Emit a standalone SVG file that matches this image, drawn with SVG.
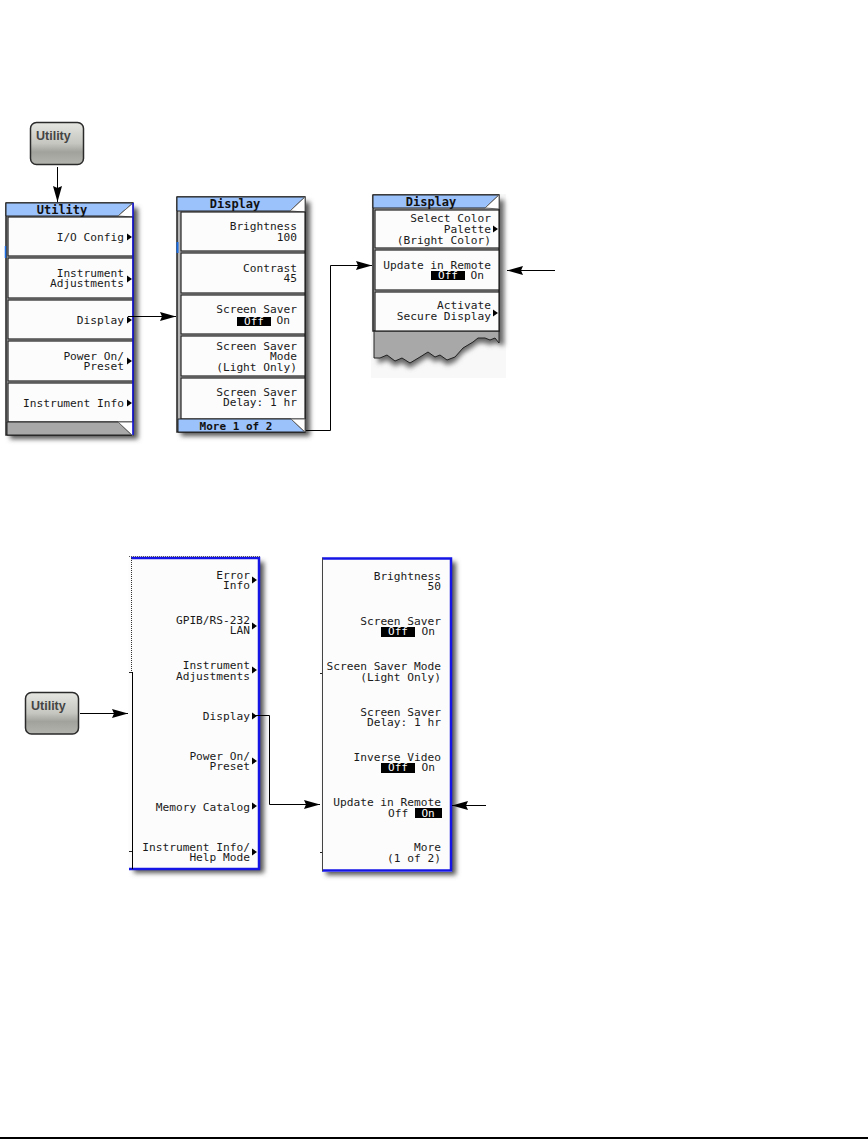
<svg xmlns="http://www.w3.org/2000/svg" width="868" height="1139" viewBox="0 0 868 1139">
<style>
.t{font-family:"DejaVu Sans Mono","Liberation Mono",monospace;font-size:11.2px;fill:#1a1a1a;text-anchor:end}
.tt{font-family:"DejaVu Sans Mono","Liberation Mono",monospace;font-size:12px;font-weight:bold;fill:#111;text-anchor:middle}
.more{font-size:11px}
.inv{font-family:"DejaVu Sans Mono","Liberation Mono",monospace;font-size:11px;fill:#fff;text-anchor:middle}
.k{fill:#fcfcfc;stroke:#222;stroke-width:1.2}
.body{fill:#b4b4b4;stroke:#222;stroke-width:1.5}
.band{fill:#9cc2fb;stroke:#222;stroke-width:1}
.corner{fill:#fff;stroke:#666;stroke-width:1}
.gray{fill:#a8a8a8;stroke:#222;stroke-width:1}
.panel{fill:#fcfcfc}
.blue{fill:none;stroke:#1515e6;stroke-width:2.500}
.sh{fill:#555;filter:url(#b)}
.c{fill:none;stroke:#000;stroke-width:1}
.tick{fill:none;stroke:#222;stroke-width:1}
.btn{font-family:"Liberation Sans",Arial,sans-serif;font-size:12.500px;font-weight:bold;fill:#444}
</style>
<defs>
<filter id="b" x="-20%" y="-20%" width="140%" height="140%"><feGaussianBlur stdDeviation="2.5"/></filter>
<linearGradient id="g" x1="0" y1="0" x2="0" y2="1"><stop offset="0" stop-color="#e6e6e2"/><stop offset=".5" stop-color="#c6c6c0"/><stop offset=".7" stop-color="#a2a29c"/><stop offset="1" stop-color="#b4b4ae"/></linearGradient>
<marker id="a" markerUnits="userSpaceOnUse" markerWidth="17" markerHeight="10" refX="16" refY="4.500" orient="auto"><path d="M0 0L16 4.500L0 9L2 4.500z" fill="#000"/></marker>
<path id="tri" d="M0 -3.500L5 0L0 3.500z" fill="#000"/>
</defs>
<g id="utility-key-top"><rect x="30.500" y="122.500" width="53" height="42" rx="6" fill="url(#g)" stroke="#2a2a2a" stroke-width="1.500"/><text class="btn" x="36" y="140">Utility</text></g>
<g id="utility-menu">
<rect class="sh" x="10" y="208" width="128" height="231"/>
<rect class="body" x="6" y="203" width="127" height="232"/>
<path class="band" d="M6 203H133L118 216H6z"/>
<path class="corner" d="M118 216L133 203V217z"/>
<rect class="k" x="8" y="217" width="125" height="39"/><rect class="k" x="8" y="258" width="125" height="40"/><rect class="k" x="8" y="300" width="125" height="39"/><rect class="k" x="8" y="341" width="125" height="40"/><rect class="k" x="8" y="383" width="125" height="39"/>
<path class="gray" d="M7 422H118L132 435H7z"/>
<path class="corner" d="M118 422L133 436V422z" stroke="#222"/>
<path d="M133 203V435" stroke="#1515e6" stroke-width="1.500"/>
<path d="M5.500 246V258" stroke="#1a6ae0" stroke-width="1.500"/>
<text class="tt" x="62" y="214">Utility</text>
<text class="t" x="124" y="241">I/O Config</text><text class="t" x="124" y="277">Instrument</text><text class="t" x="124" y="287">Adjustments</text><text class="t" x="124" y="324">Display</text><text class="t" x="124" y="360">Power On/</text><text class="t" x="124" y="370">Preset</text><text class="t" x="124" y="407">Instrument Info</text>
<use href="#tri" x="127" y="237"/><use href="#tri" x="127" y="279"/><use href="#tri" x="127" y="320"/><use href="#tri" x="127" y="361"/><use href="#tri" x="127" y="403"/>
</g>
<g id="display-menu-1">
<rect class="sh" x="181" y="202" width="129" height="234"/>
<rect class="body" x="177" y="197" width="128" height="235"/>
<path class="band" d="M177 197H305L290 211H177z"/>
<path class="corner" d="M290 211L305 197V212z"/>
<rect class="k" x="181" y="212" width="124" height="39"/><rect class="k" x="181" y="253" width="124" height="40"/><rect class="k" x="181" y="295" width="124" height="39"/><rect class="k" x="181" y="336" width="124" height="40"/><rect class="k" x="181" y="378" width="124" height="41"/>
<path class="band" d="M178 419H291L305 432H178z"/>
<path class="corner" d="M291 419L305 432V419z" stroke="#222"/>
<path d="M177.500 242V253" stroke="#1a6ae0" stroke-width="2"/>
<text class="tt" x="235" y="208">Display</text>
<text class="t" x="297" y="230">Brightness</text><text class="t" x="297" y="241">100</text><text class="t" x="297" y="272">Contrast</text><text class="t" x="297" y="282">45</text><text class="t" x="297" y="313">Screen Saver</text><rect x="237" y="317" width="34" height="9" fill="#000"/><text class="inv" x="254" y="325">Off</text><text class="t" x="290" y="324">On</text><text class="t" x="297" y="350">Screen Saver</text><text class="t" x="297" y="360">Mode</text><text class="t" x="297" y="371">(Light Only)</text><text class="t" x="297" y="396">Screen Saver</text><text class="t" x="297" y="406">Delay: 1 hr</text>
<text class="tt more" x="236" y="430">More 1 of 2</text>
</g>
<g id="display-menu-2">
<rect x="371" y="194" width="135" height="184" fill="#f8f8f8"/>
<path d="M378 200H504V346L495 343L490 345L485 343L478 343L473 347L463 353L455 362L447 365L440 360L435 362L428 357L420 362L410 368L402 363L395 366L387 360L380 363L378 363z" fill="#666" filter="url(#b)"/>
<rect class="body" x="373" y="195" width="126" height="136"/>
<path class="band" d="M373 195H499L485 208H373z"/>
<path class="corner" d="M485 208L499 195V209z"/>
<path class="gray" d="M374 331H499V343L495 338L490 340L485 338L478 338L473 342L463 348L455 357L447 360L440 355L435 357L428 352L420 357L410 363L402 358L395 361L387 355L380 358L374 358z"/>
<rect class="k" x="375" y="210" width="124" height="38"/><rect class="k" x="375" y="250" width="124" height="40"/><rect class="k" x="375" y="292" width="124" height="39"/>
<text class="tt" x="431" y="206">Display</text>
<text class="t" x="491" y="222">Select Color</text><text class="t" x="491" y="233">Palette</text><text class="t" x="491" y="244">(Bright Color)</text><text class="t" x="491" y="269">Update in Remote</text><rect x="431" y="271" width="34" height="9" fill="#000"/><text class="inv" x="448" y="279">Off</text><text class="t" x="484" y="279">On</text><text class="t" x="491" y="309">Activate</text><text class="t" x="491" y="320">Secure Display</text>
<use href="#tri" x="493" y="229"/><use href="#tri" x="493" y="313"/>
</g>
<g id="utility-key-bottom"><rect x="25.500" y="692.500" width="53" height="41.500" rx="6" fill="url(#g)" stroke="#2a2a2a" stroke-width="1.500"/><text class="btn" x="31" y="710">Utility</text></g>
<g id="softkeys-left">
<rect class="sh" x="134" y="562" width="130" height="311"/>
<rect class="panel" x="129" y="556" width="131" height="314"/>
<path class="blue" d="M131 558H259V869H129"/>
<path d="M132.500 672V869" stroke="#000" stroke-width="1"/>
<path d="M131.500 556V672" stroke="#333" stroke-dasharray="1 1"/>
<path d="M129 556.500H260" stroke="#555" stroke-dasharray="1 1"/>
<path class="tick" d="M129 672.500H132M129 851.500H132"/>
<text class="t" x="250" y="579">Error</text><text class="t" x="250" y="589">Info</text><text class="t" x="250" y="624">GPIB/RS-232</text><text class="t" x="250" y="634">LAN</text><text class="t" x="250" y="669">Instrument</text><text class="t" x="250" y="680">Adjustments</text><text class="t" x="250" y="720">Display</text><text class="t" x="250" y="760">Power On/</text><text class="t" x="250" y="770">Preset</text><text class="t" x="250" y="811">Memory Catalog</text><text class="t" x="250" y="851">Instrument Info/</text><text class="t" x="250" y="861">Help Mode</text>
<use href="#tri" x="252" y="580"/><use href="#tri" x="252" y="626"/><use href="#tri" x="252" y="670"/><use href="#tri" x="252" y="716"/><use href="#tri" x="252" y="761"/><use href="#tri" x="252" y="806"/><use href="#tri" x="252" y="852"/>
</g>
<g id="softkeys-right">
<rect class="sh" x="326" y="562" width="130" height="313"/>
<rect class="panel" x="322" y="557" width="130" height="315"/>
<path class="blue" d="M322 558.500H451V870.500H322"/>
<path d="M322.500 558V871" stroke="#444" stroke-width="1"/>
<path class="tick" d="M320 673.500H322M320 852.500H322"/>
<text class="t" x="441" y="580">Brightness</text><text class="t" x="441" y="590">50</text><text class="t" x="441" y="625">Screen Saver</text><rect x="381" y="627" width="34" height="10" fill="#000"/><text class="inv" x="398" y="635">Off</text><text class="t" x="435" y="635">On</text><text class="t" x="441" y="670">Screen Saver Mode</text><text class="t" x="441" y="681">(Light Only)</text><text class="t" x="441" y="716">Screen Saver</text><text class="t" x="441" y="726">Delay: 1 hr</text><text class="t" x="441" y="761">Inverse Video</text><rect x="381" y="763" width="34" height="10" fill="#000"/><text class="inv" x="398" y="771">Off</text><text class="t" x="435" y="771">On</text><text class="t" x="441" y="806">Update in Remote</text><text class="t" x="388" y="817" style="text-anchor:start">Off</text><rect x="415" y="808" width="27" height="10" fill="#000"/><text class="inv" x="428" y="817">On</text><text class="t" x="441" y="851">More</text><text class="t" x="441" y="862">(1 of 2)</text>
</g>
<g id="connectors">
<path class="c" d="M57.500 167V202" marker-end="url(#a)"/>
<path class="c" d="M128 316.500H176" marker-end="url(#a)"/>
<path class="c" d="M306 430.500H330.500V265.500H372" marker-end="url(#a)"/>
<path class="c" d="M555 270.500H507" marker-end="url(#a)"/>
<path class="c" d="M80 713.500H128" marker-end="url(#a)"/>
<path class="c" d="M255 715.500H269.500V804.500H320" marker-end="url(#a)"/>
<path class="c" d="M486 805.500H452" marker-end="url(#a)"/>
</g>
<rect id="page-rule" x="0" y="1137" width="868" height="2" fill="#000"/>
</svg>
